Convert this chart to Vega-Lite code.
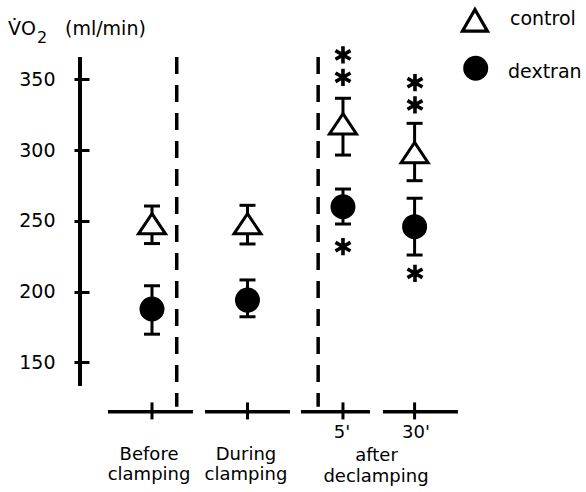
{
  "$schema": "https://vega.github.io/schema/vega-lite/v6.json",
  "width": 497,
  "height": 329,
  "autosize": {"type": "none"},
  "padding": {"left": 89, "top": 57, "right": 0, "bottom": 106},
  "background": "white",
  "config": {
    "view": {"stroke": null},
    "font": "DejaVu Sans",
    "text": {"font": "DejaVu Sans", "color": "black"},
    "axisY": {"domain": false, "grid": false, "ticks": true, "tickSize": 15, "tickWidth": 3, "tickColor": "black", "labelPadding": 19, "labelFontSize": 19, "labelFont": "DejaVu Sans", "labelColor": "black", "labelFlush": false, "labelOverlap": false}
  },
  "datasets": {
    "pts": [
      {"time": "Before", "group": "control", "u": 1, "v": 248, "lo": 234, "hi": 260.5},
      {"time": "Before", "group": "dextran", "u": 1, "v": 187.8, "lo": 170, "hi": 204.2},
      {"time": "During", "group": "control", "u": 2, "v": 248, "lo": 233.7, "hi": 261},
      {"time": "During", "group": "dextran", "u": 2, "v": 194.1, "lo": 182.3, "hi": 208.3},
      {"time": "5'", "group": "control", "u": 3, "v": 318.6, "lo": 296.5, "hi": 336.6},
      {"time": "5'", "group": "dextran", "u": 3, "v": 260, "lo": 247.8, "hi": 272.5},
      {"time": "30'", "group": "control", "u": 3.75, "v": 298.3, "lo": 278.4, "hi": 318.9},
      {"time": "30'", "group": "dextran", "u": 3.75, "v": 245.9, "lo": 225.9, "hi": 266}
    ],
    "legendControl": [{"group": "control", "u": 4.382, "v": 391.6}],
    "legendDextran": [{"group": "dextran", "u": 4.39, "v": 357.8}],
    "stars": [
      {"time": "5'", "u": 3, "v": 367.2},
      {"time": "5'", "u": 3, "v": 351.4},
      {"time": "5'", "u": 3, "v": 231.8},
      {"time": "30'", "u": 3.754, "v": 347.6},
      {"time": "30'", "u": 3.754, "v": 331.9},
      {"time": "30'", "u": 3.754, "v": 213}
    ],
    "dividers": [
      {"u": 1.259, "v": 365.75, "v2": 118.8},
      {"u": 2.74, "v": 365.75, "v2": 118.8}
    ],
    "baseSegments": [
      {"u": 0.539, "u2": 1.429, "v": 115.3},
      {"u": 1.555, "u2": 2.445, "v": 115.3},
      {"u": 2.56, "u2": 3.283, "v": 115.3},
      {"u": 3.419, "u2": 4.204, "v": 115.3}
    ],
    "baseTicks": [
      {"u": 1, "v": 115.8},
      {"u": 2, "v": 115.8},
      {"u": 3, "v": 115.8},
      {"u": 3.75, "v": 115.8}
    ],
    "centerTexts": [
      {"label": "5'", "u": 2.99, "v": 96.8},
      {"label": "30'", "u": 3.764, "v": 96.8},
      {"label": "Before", "u": 0.969, "v": 81.4},
      {"label": "clamping", "u": 0.969, "v": 66.8},
      {"label": "During", "u": 1.984, "v": 81.4},
      {"label": "clamping", "u": 1.984, "v": 66.8},
      {"label": "after", "u": 3.351, "v": 80.2},
      {"label": "declamping", "u": 3.346, "v": 65.5}
    ],
    "leftTexts": [
      {"label": "V̇O", "u": -0.508, "v": 381.3},
      {"label": "(ml/min)", "u": 0.089, "v": 381.3},
      {"label": "control", "u": 4.749, "v": 388.3},
      {"label": "dextran", "u": 4.728, "v": 350.7}
    ],
    "subTexts": [
      {"label": "2", "u": -0.205, "v": 375.4}
    ]
  },
  "layer": [
    {
      "data": {"name": "pts"},
      "mark": {"type": "rule", "strokeWidth": 3, "color": "black"},
      "encoding": {
        "x": {"field": "u", "type": "quantitative", "scale": {"domain": [0.3403, 5.545], "nice": false, "zero": false}, "axis": null},
        "y": {"field": "lo", "type": "quantitative", "scale": {"domain": [133.4, 365.75], "nice": false, "zero": false}, "axis": {"values": [150, 200, 250, 300, 350], "title": null}},
        "y2": {"field": "hi"}
      }
    },
    {
      "data": {"values": [{"u": 0.246}]},
      "mark": {"type": "rule", "strokeWidth": 4, "color": "black"},
      "encoding": {
        "x": {"field": "u", "type": "quantitative", "scale": {"domain": [0.3403, 5.545], "nice": false, "zero": false}, "axis": null}
      }
    },
    {
      "data": {"name": "dividers"},
      "mark": {"type": "rule", "strokeWidth": 3.5, "strokeDash": [17, 11], "color": "black"},
      "encoding": {
        "x": {"field": "u", "type": "quantitative", "scale": {"domain": [0.3403, 5.545], "nice": false, "zero": false}, "axis": null},
        "y": {"field": "v", "type": "quantitative", "scale": {"domain": [133.4, 365.75], "nice": false, "zero": false}, "axis": {"values": [150, 200, 250, 300, 350], "title": null}},
        "y2": {"field": "v2"}
      }
    },
    {
      "data": {"name": "baseSegments"},
      "mark": {"type": "rule", "strokeWidth": 3.5, "color": "black"},
      "encoding": {
        "x": {"field": "u", "type": "quantitative", "scale": {"domain": [0.3403, 5.545], "nice": false, "zero": false}, "axis": null},
        "x2": {"field": "u2"},
        "y": {"field": "v", "type": "quantitative", "scale": {"domain": [133.4, 365.75], "nice": false, "zero": false}, "axis": {"values": [150, 200, 250, 300, 350], "title": null}}
      }
    },
    {
      "data": {"name": "baseTicks"},
      "mark": {"type": "tick", "orient": "vertical", "size": 17, "thickness": 3, "color": "black", "opacity": 1},
      "encoding": {
        "x": {"field": "u", "type": "quantitative", "scale": {"domain": [0.3403, 5.545], "nice": false, "zero": false}, "axis": null},
        "y": {"field": "v", "type": "quantitative", "scale": {"domain": [133.4, 365.75], "nice": false, "zero": false}, "axis": {"values": [150, 200, 250, 300, 350], "title": null}}
      }
    },
    {
      "data": {"name": "pts"},
      "mark": {"type": "tick", "orient": "horizontal", "size": 16, "thickness": 3, "color": "black", "opacity": 1},
      "encoding": {
        "x": {"field": "u", "type": "quantitative", "scale": {"domain": [0.3403, 5.545], "nice": false, "zero": false}, "axis": null},
        "y": {"field": "lo", "type": "quantitative", "scale": {"domain": [133.4, 365.75], "nice": false, "zero": false}, "axis": {"values": [150, 200, 250, 300, 350], "title": null}}
      }
    },
    {
      "data": {"name": "pts"},
      "mark": {"type": "tick", "orient": "horizontal", "size": 16, "thickness": 3, "color": "black", "opacity": 1},
      "encoding": {
        "x": {"field": "u", "type": "quantitative", "scale": {"domain": [0.3403, 5.545], "nice": false, "zero": false}, "axis": null},
        "y": {"field": "hi", "type": "quantitative", "scale": {"domain": [133.4, 365.75], "nice": false, "zero": false}, "axis": {"values": [150, 200, 250, 300, 350], "title": null}}
      }
    },
    {
      "data": {"name": "pts"},
      "mark": {"type": "point", "stroke": "black", "strokeWidth": 3, "opacity": 1, "fillOpacity": 1, "strokeOpacity": 1},
      "encoding": {
        "x": {"field": "u", "type": "quantitative", "scale": {"domain": [0.3403, 5.545], "nice": false, "zero": false}, "axis": null},
        "y": {"field": "v", "type": "quantitative", "scale": {"domain": [133.4, 365.75], "nice": false, "zero": false}, "axis": {"values": [150, 200, 250, 300, 350], "title": null}},
        "shape": {"field": "group", "type": "nominal", "scale": {"domain": ["control", "dextran"], "range": ["M0,-0.75L1,0.75L-1,0.75Z", "circle"]}, "legend": null},
        "fill": {"field": "group", "type": "nominal", "scale": {"domain": ["control", "dextran"], "range": ["white", "black"]}, "legend": null},
        "size": {"field": "group", "type": "ordinal", "scale": {"domain": ["control", "dextran"], "range": [729, 484]}, "legend": null}
      }
    },
    {
      "data": {"name": "legendControl"},
      "mark": {"type": "point", "shape": "triangle-up", "size": 625, "stroke": "black", "strokeWidth": 3.2, "fill": "white", "opacity": 1, "fillOpacity": 1, "strokeOpacity": 1},
      "encoding": {
        "x": {"field": "u", "type": "quantitative", "scale": {"domain": [0.3403, 5.545], "nice": false, "zero": false}, "axis": null},
        "y": {"field": "v", "type": "quantitative", "scale": {"domain": [133.4, 365.75], "nice": false, "zero": false}, "axis": {"values": [150, 200, 250, 300, 350], "title": null}}
      }
    },
    {
      "data": {"name": "legendDextran"},
      "mark": {"type": "point", "shape": "circle", "size": 484, "stroke": "black", "strokeWidth": 3, "fill": "black", "opacity": 1, "fillOpacity": 1, "strokeOpacity": 1},
      "encoding": {
        "x": {"field": "u", "type": "quantitative", "scale": {"domain": [0.3403, 5.545], "nice": false, "zero": false}, "axis": null},
        "y": {"field": "v", "type": "quantitative", "scale": {"domain": [133.4, 365.75], "nice": false, "zero": false}, "axis": {"values": [150, 200, 250, 300, 350], "title": null}}
      }
    },
    {
      "data": {"name": "stars"},
      "mark": {"type": "point", "shape": "M0,-1L0,1M-0.866,-0.5L0.866,0.5M-0.866,0.5L0.866,-0.5", "size": 300, "stroke": "black", "strokeWidth": 3.6, "opacity": 1, "strokeOpacity": 1, "filled": false},
      "encoding": {
        "x": {"field": "u", "type": "quantitative", "scale": {"domain": [0.3403, 5.545], "nice": false, "zero": false}, "axis": null},
        "y": {"field": "v", "type": "quantitative", "scale": {"domain": [133.4, 365.75], "nice": false, "zero": false}, "axis": {"values": [150, 200, 250, 300, 350], "title": null}}
      }
    },
    {
      "data": {"name": "centerTexts"},
      "mark": {"type": "text", "align": "center", "baseline": "alphabetic", "fontSize": 18, "font": "DejaVu Sans", "color": "black"},
      "encoding": {
        "x": {"field": "u", "type": "quantitative", "scale": {"domain": [0.3403, 5.545], "nice": false, "zero": false}, "axis": null},
        "y": {"field": "v", "type": "quantitative", "scale": {"domain": [133.4, 365.75], "nice": false, "zero": false}, "axis": {"values": [150, 200, 250, 300, 350], "title": null}},
        "text": {"field": "label"}
      }
    },
    {
      "data": {"name": "leftTexts"},
      "mark": {"type": "text", "align": "left", "baseline": "alphabetic", "fontSize": 19, "font": "DejaVu Sans", "color": "black"},
      "encoding": {
        "x": {"field": "u", "type": "quantitative", "scale": {"domain": [0.3403, 5.545], "nice": false, "zero": false}, "axis": null},
        "y": {"field": "v", "type": "quantitative", "scale": {"domain": [133.4, 365.75], "nice": false, "zero": false}, "axis": {"values": [150, 200, 250, 300, 350], "title": null}},
        "text": {"field": "label"}
      }
    },
    {
      "data": {"name": "subTexts"},
      "mark": {"type": "text", "align": "left", "baseline": "alphabetic", "fontSize": 16, "font": "DejaVu Sans", "color": "black"},
      "encoding": {
        "x": {"field": "u", "type": "quantitative", "scale": {"domain": [0.3403, 5.545], "nice": false, "zero": false}, "axis": null},
        "y": {"field": "v", "type": "quantitative", "scale": {"domain": [133.4, 365.75], "nice": false, "zero": false}, "axis": {"values": [150, 200, 250, 300, 350], "title": null}},
        "text": {"field": "label"}
      }
    }
  ]
}
